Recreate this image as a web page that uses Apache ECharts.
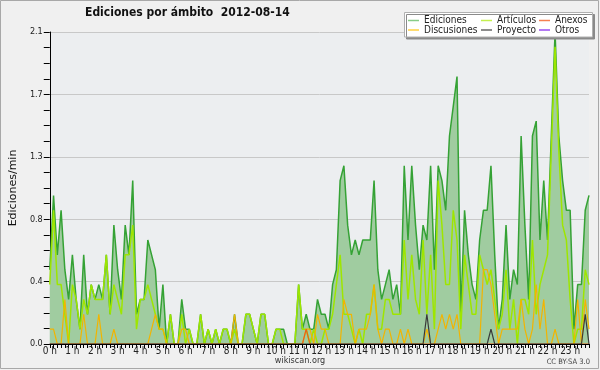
<!DOCTYPE html>
<html>
<head>
<meta charset="utf-8">
<script src="https://cdn.jsdelivr.net/npm/echarts@6/dist/echarts.min.js"></script>
<style>
html,body{margin:0;padding:0;background:#f0f0f0;}
#chart{width:600px;height:370px;}
</style>
</head>
<body>
<div id="chart"></div>
<script>
// ---- data (edits per minute, 10-minute bins, 00:00 .. 23:50) ----
const hourLabels = ['0 h','1 h','2 h','3 h','4 h','5 h','6 h','7 h','8 h','9 h','10 h','11 h',
  '12 h','13 h','14 h','15 h','16 h','17 h','18 h','19 h','20 h','21 h','22 h','23 h'];
const yTicks = [0, 0.42, 0.84, 1.26, 1.68, 2.1];

const ediciones = [
  0.5,1.0,0.6,0.9,0.5,0.3, 0.6,0.3,0.1,0.6,0.2,0.4, 0.3,0.4,0.3,0.6,0.2,0.8, 0.5,0.3,0.8,0.6,1.1,0.2,
  0.3,0.3,0.7,0.6,0.5,0.1, 0.4,0,0.2,0,0,0.3, 0.1,0.1,0,0,0.2,0, 0.1,0,0.1,0,0.1,0.1,
  0,0.2,0,0,0.2,0.2, 0.1,0,0.2,0.2,0,0, 0.1,0.1,0.1,0,0,0, 0.4,0.1,0.2,0.1,0.1,0.3,
  0.2,0.2,0.1,0.4,0.5,1.1, 1.2,0.8,0.6,0.7,0.6,0.7, 0.7,0.7,1.1,0.5,0.3,0.4, 0.5,0.3,0.4,0.2,1.2,0.7,
  1.2,0.8,0.5,0.8,0.7,1.2, 0.5,1.2,1.1,0.9,1.4,1.6, 1.8,0.2,0.9,0.6,0.4,0.3, 0.7,0.9,0.9,1.2,0.6,0.1,
  0.3,0.8,0.3,0.5,0.4,1.4, 0.8,0.3,1.4,1.5,0.7,1.1, 0.7,1.4,2.1,1.4,1.1,0.9, 0.9,0.1,0.4,0.4,0.9,1.0
];
const articulos = [
  0.4,0.9,0.4,0.4,0.2,0, 0.4,0.3,0.1,0.3,0.2,0.4, 0.3,0.3,0.3,0.6,0.2,0.4, 0.3,0.2,0.6,0.6,0.8,0.1,
  0.3,0.3,0.4,0.3,0.2,0.1, 0.1,0,0.2,0,0,0.2, 0,0.1,0,0,0.2,0, 0.1,0,0.1,0,0.1,0.1,
  0,0.1,0,0,0.2,0.2, 0.1,0,0.2,0.2,0,0, 0.1,0.1,0,0,0,0, 0.4,0.1,0.1,0,0.1,0,
  0,0.1,0.1,0.2,0.4,0.6, 0.2,0.2,0.1,0,0.1,0, 0.2,0.2,0.4,0.1,0.1,0.3, 0.3,0.2,0.2,0.2,0.7,0.3,
  0.6,0.3,0.2,0.7,0.2,0.6, 0.1,1.1,0.8,0.4,0.4,0.9, 0.7,0.1,0.6,0.4,0.2,0.2, 0.6,0.5,0.4,0.5,0.3,0.1,
  0.2,0.5,0.1,0.3,0,0.3, 0.3,0.2,0.7,0.2,0.4,0.5, 0.6,1.3,2.0,1.3,0.8,0.7, 0.3,0,0.1,0.1,0.5,0.4
];
const discusiones = [
  0.1,0.1,0,0,0.3,0, 0,0,0,0.2,0,0, 0,0.2,0,0,0,0.1, 0,0,0,0,0,0,
  0,0,0,0.1,0.2,0.1, 0.1,0,0,0,0,0.1, 0.1,0,0,0,0,0, 0,0,0,0,0,0,
  0,0.2,0,0,0,0, 0,0,0,0,0,0, 0,0,0,0,0,0, 0,0,0.1,0.1,0,0.2,
  0.1,0.1,0,0,0,0, 0.3,0.2,0.2,0,0.1,0.1, 0.1,0.2,0.4,0.1,0,0.1, 0.1,0,0,0.1,0,0.1,
  0,0,0,0,0.1,0, 0,0.1,0.2,0.1,0.2,0.1, 0.2,0,0,0,0,0, 0,0.5,0.5,0.4,0.2,0,
  0.1,0.1,0.1,0.1,0.1,0.3, 0.1,0,0.1,0.4,0.1,0.3, 0,0,0.1,0,0,0, 0,0,0.3,0,0.3,0.1
];
const anexos = [
  0,0,0,0,0,0, 0,0,0,0,0,0, 0,0,0,0,0,0, 0,0,0,0,0,0,
  0,0,0,0,0,0, 0,0,0,0,0,0, 0,0,0,0,0,0, 0,0,0,0,0,0,
  0,0,0,0,0,0, 0,0,0,0,0,0, 0,0,0,0,0,0, 0,0,0.1,0,0,0,
  0,0,0,0,0,0, 0,0,0,0,0,0, 0,0,0,0,0,0, 0,0,0,0,0,0,
  0,0,0,0,0,0, 0,0,0,0,0,0, 0,0,0,0,0,0, 0,0,0,0,0,0,
  0,0,0,0,0,0, 0,0,0,0,0,0, 0,0,0,0,0,0, 0,0,0,0,0,0
];
const proyecto = [
  0,0,0,0,0,0, 0,0,0,0,0,0, 0,0,0,0,0,0, 0,0,0,0,0,0,
  0,0,0,0,0,0, 0,0,0,0,0,0, 0,0,0,0,0,0, 0,0,0,0,0,0,
  0,0,0,0,0,0, 0,0,0,0,0,0, 0,0,0,0,0,0, 0,0,0,0,0,0,
  0,0,0,0,0,0, 0,0,0,0,0,0, 0,0,0,0,0,0, 0,0,0,0,0,0,
  0,0,0,0,0.2,0, 0,0,0,0,0,0, 0,0,0,0,0,0, 0,0,0,0.1,0,0,
  0,0,0,0,0,0, 0,0,0,0,0,0, 0,0,0,0,0,0, 0,0,0,0,0.2,0
];
const otros = [
  0,0,0,0,0,0, 0,0,0,0,0,0, 0,0,0,0,0,0, 0,0,0,0,0,0,
  0,0,0,0,0,0, 0,0,0,0,0,0, 0,0,0,0,0,0, 0,0,0,0,0,0,
  0,0,0,0,0,0, 0,0,0,0,0,0, 0,0,0,0,0,0, 0,0,0,0,0,0,
  0,0,0,0,0,0, 0,0,0,0,0,0, 0,0,0,0,0,0, 0,0,0,0,0,0,
  0,0,0,0,0,0, 0,0,0,0,0,0, 0,0,0,0,0,0, 0,0,0,0,0,0,
  0,0,0,0,0,0, 0,0,0,0,0,0, 0,0,0,0,0,0, 0,0,0,0,0,0
];

// category slots (10-minute bins)
const slots = [];
for (let h = 0; h < 24; h++) for (let m = 0; m < 6; m++) slots.push(h + ':' + m + '0');

const FONT = "'DejaVu Sans Condensed', 'DejaVu Sans', sans-serif";

const chart = echarts.init(document.getElementById('chart'), null, {renderer: 'canvas'});

function lg(left, names, colors) {
  return {
    orient: 'vertical', left: left, top: 15.5, padding: 0, itemGap: -0.5,
    itemWidth: 11, itemHeight: 1.5, icon: 'rect', itemStyle: {borderWidth: 0},
    selectedMode: false, z: 6,
    textStyle: {fontFamily: FONT, fontSize: 10, color: '#222', lineHeight: 10, padding: [0, 0, 0, 0]},
    data: names.map((n, k) => ({name: n, itemStyle: {color: colors[k]}}))
  };
}

const option = {
  backgroundColor: '#f0f0f0',
  animation: false,
  title: {
    text: 'Ediciones por ámbito  2012-08-14',
    left: 85, top: 7, padding: 0,
    textStyle: {fontFamily: FONT, fontWeight: 'bold', fontSize: 12, color: '#111'}
  },
  grid: {left: 46, right: 11, top: 32, bottom: 26, show: true, backgroundColor: '#eceef0', borderWidth: 0},
  legend: [
    lg(408, ['Ediciones', 'Discusiones'], ['#88cc88', '#ffd040']),
    lg(481, ['Artículos', 'Proyecto'], ['#c4f050', '#666666']),
    lg(539, ['Anexos', 'Otros'], ['#f58050', '#9a4cf0'])
  ],
  graphic: [
    {type: 'rect', z: 5, shape: {x: 404.5, y: 12.5, width: 188, height: 24.5},
     style: {fill: '#ffffff', stroke: '#b0b0b0', lineWidth: 1,
             shadowColor: '#8a8a8a', shadowOffsetX: 2, shadowOffsetY: 2, shadowBlur: 0}},
    {type: 'rect', z: 0, shape: {x: 0.5, y: 0.5, width: 598, height: 368},
     style: {fill: 'none', stroke: '#a8a8a8', lineWidth: 1}},
    {type: 'text', z: 6, left: 'center', top: 356,
     style: {text: 'wikiscan.org', font: "9px " + FONT, fill: '#333'}},
    {type: 'text', z: 6, right: 10, top: 358,
     style: {text: 'CC BY-SA 3.0', font: "7.5px " + FONT, fill: '#444'}}
  ],
  xAxis: {
    type: 'category', data: slots, boundaryGap: false, z: 4,
    axisLine: {show: true, lineStyle: {color: '#000', width: 1}},
    axisTick: {show: true, interval: 0, length: 4, lineStyle: {color: '#000'}},
    axisLabel: {
      interval: 5, margin: 2, fontFamily: FONT, fontSize: 10, color: '#222',
      formatter: (v, idx) => hourLabels[Math.floor(idx / 6)]
    },
    splitLine: {show: false}
  },
  yAxis: {
    type: 'value', min: yTicks[0], max: yTicks[yTicks.length - 1], interval: yTicks[1],
    name: 'Ediciones/min', nameLocation: 'middle', nameRotate: 90, nameGap: 30,
    nameTextStyle: {fontFamily: "'DejaVu Sans', sans-serif", fontSize: 11, color: '#111'},
    axisLine: {show: true, lineStyle: {color: '#000', width: 1}},
    axisTick: {show: true, length: 6, lineStyle: {color: '#000'}},
    minorTick: {show: true, splitNumber: 4, length: 6, lineStyle: {color: '#000'}},
    axisLabel: {margin: 7, fontFamily: FONT, fontSize: 9, color: '#222',
      formatter: v => v.toFixed(1)},
    splitLine: {show: true, lineStyle: {color: '#c8c8c8', width: 1}}
  },
  series: [
    {name: 'Ediciones', type: 'line', data: ediciones, symbol: 'none', z: 2,
     lineStyle: {color: '#35a235', width: 1.5}, itemStyle: {color: '#35a235'},
     areaStyle: {color: '#a0cca0', opacity: 1}},
    {name: 'Artículos', type: 'line', data: articulos, symbol: 'none', z: 3,
     lineStyle: {color: '#9ee600', width: 1.5}, itemStyle: {color: '#9ee600'}},
    {name: 'Discusiones', type: 'line', data: discusiones, symbol: 'none', z: 3,
     lineStyle: {color: '#f2b400', width: 1.2}, itemStyle: {color: '#f2b400'}},
    {name: 'Anexos', type: 'line', data: anexos, symbol: 'none', z: 3,
     lineStyle: {color: '#e8601c', width: 1.2}, itemStyle: {color: '#e8601c'}},
    {name: 'Proyecto', type: 'line', data: proyecto, symbol: 'none', z: 3,
     lineStyle: {color: '#3a3a3a', width: 1.2}, itemStyle: {color: '#3a3a3a'}},
    {name: 'Otros', type: 'line', data: otros, symbol: 'none', z: 1,
     lineStyle: {color: '#9a4cf0', width: 1}, itemStyle: {color: '#9a4cf0'}}
  ]
};
chart.setOption(option);
</script>
</body>
</html>
